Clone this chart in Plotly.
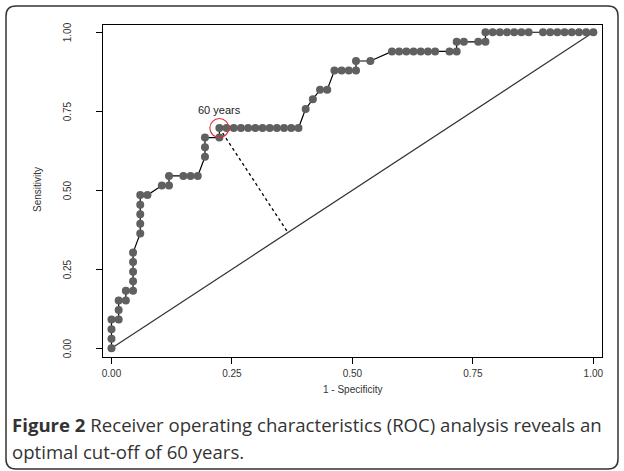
import plotly.graph_objects as go

# ---------------- data ----------------
n_negatives = 67
n_positives = 33
# ROC points as counts of false positives (k) and true positives (j)
fp_counts = [0, 0, 0, 0, 1, 1, 1, 2, 2, 3, 3, 3, 3, 3, 4, 4, 4, 4, 4, 5, 7, 8, 8,
             10, 11, 12, 13, 13, 13, 15, 15, 16, 17, 18, 19, 20, 21, 22, 23, 24, 25, 26,
             27, 28, 29, 30, 31, 32, 33, 34, 34, 36,
             39, 40, 41, 42, 43, 44, 45, 47, 48, 48, 49, 51, 52,
             52, 53, 54, 55, 56, 57, 58, 60, 61, 62, 63, 64, 65, 66, 67]
tp_counts = [0, 1, 2, 3, 3, 4, 5, 5, 6, 6, 7, 8, 9, 10, 12, 13, 14, 15, 16, 16, 17, 17, 18,
             18, 18, 18, 20, 21, 22, 22, 23, 23, 23, 23, 23, 23, 23, 23, 23, 23, 23, 23,
             25, 26, 27, 27, 29, 29, 29, 29, 30, 30,
             31, 31, 31, 31, 31, 31, 31, 31, 31, 32, 32, 32, 32,
             33, 33, 33, 33, 33, 33, 33, 33, 33, 33, 33, 33, 33, 33, 33]
one_minus_spec = [k / n_negatives for k in fp_counts]
sensitivity = [j / n_positives for j in tp_counts]

cutoff_label = "60 years"
cutoff_x = 15 / n_negatives
cutoff_y = 23 / n_positives

x_ticks = [0.0, 0.25, 0.5, 0.75, 1.0]
x_ticklabels = ["0.00", "0.25", "0.50", "0.75", "1.00"]
y_ticks = [0.0, 0.25, 0.5, 0.75, 1.0]
y_ticklabels = ["0.00", "0.25", "0.50", "0.75", "1.00"]

caption_line1 = "<b>Figure 2</b> Receiver operating characteristics (ROC) analysis reveals an"
caption_line2 = "optimal cut-off of 60 years."

# ---------------- layout geometry ----------------
W, H = 624, 471
ML, MR, MT, MB = 103, 22, 25, 114
PW, PH = W - ML - MR, H - MT - MB
x_range = [-0.0176, 1.018]
y_range = [-0.0275, 1.023]
px_per_x = PW / (x_range[1] - x_range[0])
px_per_y = PH / (y_range[1] - y_range[0])

# perpendicular (in screen space) projection of the cut-off point onto the diagonal
t = (cutoff_x * px_per_x ** 2 + cutoff_y * px_per_y ** 2) / (px_per_x ** 2 + px_per_y ** 2)

def xp(px):
    return (px - ML) / PW

def yp(py):
    return (MT + PH - py) / PH

fig = go.Figure()

# diagonal reference line
fig.add_trace(go.Scatter(x=[0, 1], y=[0, 1], mode="lines",
                         line=dict(color="#333333", width=1.2), hoverinfo="skip"))
# dashed distance line
fig.add_trace(go.Scatter(x=[cutoff_x, t], y=[cutoff_y, t], mode="lines",
                         line=dict(color="black", width=1.3, dash="3px,3px"), hoverinfo="skip"))
# ROC curve
fig.add_trace(go.Scatter(x=one_minus_spec, y=sensitivity, mode="lines+markers",
                         line=dict(color="black", width=1.2),
                         marker=dict(color="#606060", size=8, line=dict(width=0))))
# red circle around cut-off
fig.add_trace(go.Scatter(x=[cutoff_x], y=[cutoff_y], mode="markers",
                         marker=dict(symbol="circle-open", size=19,
                                     color="#e0303c", line=dict(width=1.1, color="#e0303c"))))

tick_font = dict(family="Liberation Sans", size=10, color="#333333")
axis_common = dict(showgrid=False, zeroline=False, showline=True, mirror=True,
                   linecolor="black", linewidth=1, ticks="outside", ticklen=6,
                   tickcolor="black", tickwidth=1, tickfont=tick_font)

fig.update_layout(
    width=W, height=H, margin=dict(l=ML, r=MR, t=MT, b=MB, pad=0),
    paper_bgcolor="white", plot_bgcolor="white", showlegend=False,
    xaxis=dict(range=x_range, tickvals=x_ticks, ticktext=x_ticklabels,
               ticklabelstandoff=1, **axis_common),
    yaxis=dict(range=y_range, tickvals=y_ticks, showticklabels=False, **axis_common),
)

annotations = [
    dict(x=cutoff_x, y=cutoff_y, xref="x", yref="y", text=cutoff_label, showarrow=False,
         xanchor="center", yanchor="middle", yshift=18, xshift=0,
         font=dict(family="Liberation Sans", size=11, color="#222222")),
    dict(x=xp(37), y=yp(190), xref="paper", yref="paper", text="Sensitivity", textangle=-90,
         xanchor="center", yanchor="middle",
         showarrow=False, font=dict(family="Liberation Sans", size=10, color="#333333")),
    dict(x=xp(352), y=yp(389), xref="paper", yref="paper", text="1 - Specificity",
         xanchor="center", yanchor="middle",
         showarrow=False, font=dict(family="Liberation Sans", size=10, color="#333333")),
    dict(x=xp(10), y=yp(425), xref="paper", yref="paper", text=caption_line1,
         xanchor="left", yanchor="middle",
         showarrow=False, font=dict(family="Open Sans", size=18.6, color="#333333")),
    dict(x=xp(10), y=yp(451), xref="paper", yref="paper", text=caption_line2,
         xanchor="left", yanchor="middle",
         showarrow=False, font=dict(family="Open Sans", size=18.6, color="#333333")),
]
# rotated y tick labels, placed on the y scale
for v, lab in zip(y_ticks, y_ticklabels):
    annotations.append(dict(x=xp(67), y=v, xref="paper", yref="y", text=lab, textangle=-90,
                            xanchor="center", yanchor="middle", showarrow=False,
                            font=tick_font))
fig.update_layout(annotations=annotations)

# rounded outer frame
x0, y0, x1, y1, r = 6, 6, 618, 469, 10
path = (f"M {xp(x0 + r)},{yp(y0)} L {xp(x1 - r)},{yp(y0)} "
        f"Q {xp(x1)},{yp(y0)} {xp(x1)},{yp(y0 + r)} L {xp(x1)},{yp(y1 - r)} "
        f"Q {xp(x1)},{yp(y1)} {xp(x1 - r)},{yp(y1)} L {xp(x0 + r)},{yp(y1)} "
        f"Q {xp(x0)},{yp(y1)} {xp(x0)},{yp(y1 - r)} L {xp(x0)},{yp(y0 + r)} "
        f"Q {xp(x0)},{yp(y0)} {xp(x0 + r)},{yp(y0)} Z")
fig.add_shape(type="path", path=path, xref="paper", yref="paper",
              line=dict(color="#333333", width=1.5), layer="below")

fig.write_html("out.html", config={"displayModeBar": False},
               post_script="document.body.style.margin='0';document.body.style.padding='0';")
